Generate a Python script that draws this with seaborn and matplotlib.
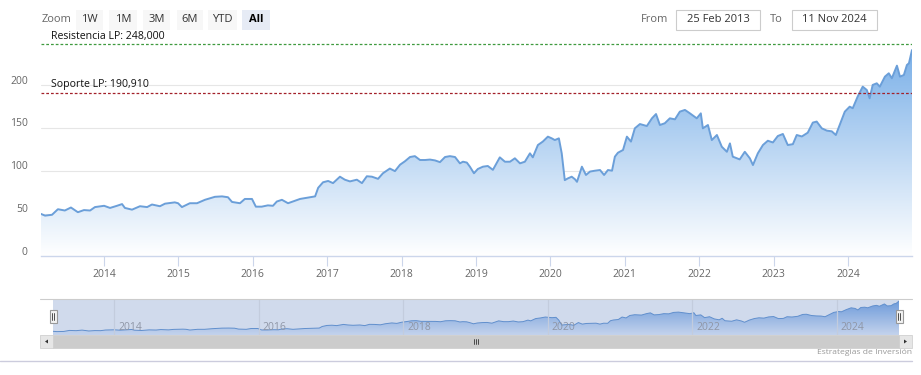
import numpy as np
import pandas as pd
import matplotlib
matplotlib.use("Agg")
import matplotlib.pyplot as plt
import matplotlib.dates as mdates
import seaborn as sns
from matplotlib.transforms import ScaledTranslation
from matplotlib.patches import Rectangle, PathPatch, Polygon
from matplotlib.colors import LinearSegmentedColormap
from matplotlib.lines import Line2D

# ---------------- data ----------------
dates = [
    "2013-02-25", "2013-03-17", "2013-04-20", "2013-05-19", "2013-06-22", "2013-07-22", "2013-08-25",
    "2013-09-24", "2013-10-24", "2013-11-17", "2014-01-01", "2014-01-30", "2014-03-05", "2014-03-30",
    "2014-04-13", "2014-05-18", "2014-06-26", "2014-07-31", "2014-08-24", "2014-10-02", "2014-10-27",
    "2014-12-14", "2014-12-30", "2015-01-18", "2015-02-26", "2015-04-02", "2015-05-11", "2015-06-29",
    "2015-08-03", "2015-09-01", "2015-09-21", "2015-10-30", "2015-11-23", "2015-12-28", "2016-01-16",
    "2016-02-14", "2016-03-15", "2016-04-09", "2016-04-28", "2016-05-23", "2016-06-22", "2016-07-16",
    "2016-08-20", "2016-10-08", "2016-11-02", "2016-11-17", "2016-12-11", "2017-01-05", "2017-01-29",
    "2017-03-04", "2017-03-28", "2017-04-22", "2017-05-26", "2017-06-20", "2017-07-14", "2017-08-08",
    "2017-09-07", "2017-10-01", "2017-11-04", "2017-11-29", "2017-12-24", "2018-01-17", "2018-02-11",
    "2018-03-07", "2018-04-01", "2018-04-26", "2018-05-20", "2018-06-14", "2018-07-08", "2018-08-02",
    "2018-08-26", "2018-09-20", "2018-10-14", "2018-10-29", "2018-11-17", "2018-12-02", "2018-12-22",
    "2019-01-10", "2019-02-04", "2019-02-28", "2019-03-25", "2019-04-28", "2019-05-23", "2019-06-17",
    "2019-07-11", "2019-08-05", "2019-08-29", "2019-09-23", "2019-10-07", "2019-11-01", "2019-11-25",
    "2019-12-20", "2020-01-08", "2020-01-23", "2020-02-12", "2020-02-26", "2020-03-12", "2020-03-27",
    "2020-04-15", "2020-05-01", "2020-05-11", "2020-06-04", "2020-06-24", "2020-07-14", "2020-08-07",
    "2020-09-01", "2020-09-21", "2020-10-10", "2020-10-30", "2020-11-13", "2020-11-28", "2020-12-23",
    "2021-01-11", "2021-01-31", "2021-02-19", "2021-03-16", "2021-04-19", "2021-05-14", "2021-06-03",
    "2021-06-22", "2021-07-16", "2021-08-10", "2021-09-04", "2021-09-28", "2021-10-23", "2021-11-16",
    "2021-12-20", "2022-01-09", "2022-01-19", "2022-02-13", "2022-03-04", "2022-03-29", "2022-04-22",
    "2022-05-17", "2022-06-01", "2022-06-15", "2022-07-19", "2022-08-13", "2022-09-07", "2022-09-22",
    "2022-10-16", "2022-11-10", "2022-12-04", "2022-12-29", "2023-01-22", "2023-02-16", "2023-03-12",
    "2023-04-06", "2023-04-25", "2023-05-20", "2023-06-18", "2023-07-13", "2023-08-01", "2023-08-26",
    "2023-09-20", "2023-10-14", "2023-11-03", "2023-11-22", "2023-12-17", "2024-01-10", "2024-01-25",
    "2024-02-18", "2024-03-14", "2024-04-03", "2024-04-17", "2024-05-02", "2024-05-22", "2024-06-06",
    "2024-07-01", "2024-07-20", "2024-08-04", "2024-08-29", "2024-09-13", "2024-10-02", "2024-10-17",
    "2024-10-27", "2024-11-11",
]
values = [
    49.5, 47.5, 48.5, 55.0, 53.5, 57.0, 51.5,
    54.0, 53.5, 57.5, 59.0, 56.5, 59.0, 61.0,
    56.5, 54.5, 58.5, 57.5, 60.5, 58.5, 61.5,
    63.0, 62.0, 57.5, 62.0, 62.0, 66.0, 69.5,
    70.0, 69.0, 63.5, 62.0, 67.0, 67.0, 58.0,
    58.0, 59.5, 59.0, 64.0, 66.0, 62.0, 64.0,
    67.0, 69.0, 70.0, 80.0, 86.5, 88.0, 85.5,
    93.0, 89.5, 87.5, 89.5, 85.5, 93.5, 93.0,
    90.5, 97.0, 102.5, 99.5, 107.0, 111.0, 116.0,
    117.0, 112.5, 112.5, 113.0, 112.0, 110.0, 116.0,
    117.0, 116.0, 108.6, 110.5, 109.5, 104.7, 97.0,
    102.0, 104.7, 105.5, 101.0, 115.6, 110.5, 110.5,
    114.5, 108.6, 110.5, 120.3, 115.6, 130.0, 134.0,
    139.8, 137.8, 135.8, 137.8, 120.3, 89.0, 91.0,
    93.0, 90.0, 87.0, 104.7, 95.0, 99.0, 100.0,
    100.8, 95.0, 100.8, 100.0, 116.4, 121.0, 124.2,
    139.8, 134.0, 149.5, 154.5, 152.2, 161.2, 166.2,
    153.4, 155.4, 161.2, 160.0, 169.0, 171.0, 167.1,
    161.2, 167.0, 149.5, 153.4, 135.8, 141.7, 128.0,
    122.1, 131.9, 116.4, 113.2, 122.1, 114.4, 106.6,
    120.3, 130.0, 135.0, 133.0, 140.5, 142.9, 130.0,
    131.0, 141.7, 140.0, 144.4, 156.2, 157.4, 149.5,
    146.8, 146.0, 141.7, 153.4, 169.0, 174.8, 173.0,
    186.5, 198.2, 194.3, 184.6, 200.2, 202.1, 198.2,
    209.9, 213.8, 208.0, 222.7, 209.9, 211.8, 223.5,
    225.5, 241.0,
]
resistance_value = 248.0
support_value = 190.91
resistance_label = "Resistencia LP: 248,000"
support_label = "Soporte LP: 190,910"
y_ticks = [0, 50, 100, 150, 200]
x_years = list(range(2014, 2025))
nav_years = [2014, 2016, 2018, 2020, 2022, 2024]
range_buttons = ["1W", "1M", "3M", "6M", "YTD", "All"]
from_text = "25 Feb 2013"
to_text = "11 Nov 2024"
credit_text = "Estrategias de Inversión"

# ---------------- style ----------------
sns.set_theme(style="white")
plt.rcParams["font.family"] = ["Open Sans", "DejaVu Sans"]

W, H = 921, 375
fig = plt.figure(figsize=(W / 100, H / 100), dpi=100)
fig.patch.set_facecolor("white")


def rect(x0, y0, x1, y1):
    return [x0 / W, 1 - y1 / H, (x1 - x0) / W, (y1 - y0) / H]


df = pd.DataFrame({"date": pd.to_datetime(dates), "value": values})
xnum = mdates.date2num(df["date"].values)
x_start, x_end = xnum.min(), xnum.max()

LINE = "#6b9fd9"


def gradient_area(ax, top_rgb, bottom_rgb, ytop, ybottom, zorder):
    poly = ax.fill_between(df["date"], df["value"], ybottom, facecolor="none", edgecolor="none")
    path = poly.get_paths()[0]
    cmap = LinearSegmentedColormap.from_list("g", [bottom_rgb, top_rgb])
    grad = np.linspace(0, 1, 256).reshape(-1, 1)
    im = ax.imshow(grad, extent=[x_start, x_end, ybottom, ytop], origin="lower",
                   aspect="auto", cmap=cmap, zorder=zorder, interpolation="bilinear")
    patch = PathPatch(path, transform=ax.transData, facecolor="none", edgecolor="none")
    ax.add_patch(patch)
    im.set_clip_path(patch)


# ---------------- main chart ----------------
ax = fig.add_axes(rect(41, 42.3, 912, 256.3))
ax.set_facecolor("white")
gradient_area(ax, (0.48, 0.69, 0.91), (1.0, 1.0, 1.0), max(values), 0, 1)
sns.lineplot(data=df, x="date", y="value", ax=ax, color=LINE, linewidth=1.4, zorder=4)

ax.axhline(resistance_value, color="#3f9a3f", lw=0.9, ls=(0, (2.2, 1.6)), zorder=5)
ax.axhline(support_value, color="#a3202a", lw=0.9, ls=(0, (2.2, 1.6)), zorder=5)
ax.annotate(resistance_label, xy=(10 / 871, resistance_value), xycoords=("axes fraction", "data"),
            xytext=(0, 1.5), textcoords="offset points", ha="left", va="bottom",
            fontsize=7.6, color="#111111", zorder=6, annotation_clip=False)
ax.annotate(support_label, xy=(10 / 871, support_value), xycoords=("axes fraction", "data"),
            xytext=(0, 2.0), textcoords="offset points", ha="left", va="bottom",
            fontsize=7.6, color="#111111", zorder=6, annotation_clip=False)

ax.set_ylim(0, 250)
ax.set_xlim(x_start, x_end)
ax.set_yticks(y_ticks)
ax.set_yticklabels([str(v) for v in y_ticks])
ax.set_xticks([mdates.date2num(pd.Timestamp(f"{y}-01-01")) for y in x_years])
ax.set_xticklabels([str(y) for y in x_years])
ax.grid(axis="y", color="#e6e6e6", lw=0.8)
ax.grid(axis="x", visible=False)
for s in ["left", "right", "top"]:
    ax.spines[s].set_visible(False)
ax.spines["bottom"].set_color("#ccd6eb")
ax.spines["bottom"].set_linewidth(1.0)
ax.tick_params(axis="x", length=7, width=0.8, color="#ccd6eb", labelsize=7.5,
               labelcolor="#666666", pad=2.0, bottom=True)
ax.tick_params(axis="y", length=0, labelsize=7.5, labelcolor="#666666", pad=9.5)
for lbl in ax.get_yticklabels():
    lbl.set_transform(lbl.get_transform() + ScaledTranslation(0, 5.5 / 100, fig.dpi_scale_trans))
ax.set_xlabel("")
ax.set_ylabel("")

# ---------------- navigator ----------------
nav = fig.add_axes(rect(53, 299, 899, 335))
nav.set_facecolor("white")
gradient_area(nav, (0.45, 0.65, 0.90), (0.93, 0.96, 1.0), max(values), 26, 0.5)
sns.lineplot(data=df, x="date", y="value", ax=nav, color="#5f94d2", linewidth=0.7, zorder=0.7)
nav.axvspan(x_start, x_end, color=(102 / 255, 133 / 255, 194 / 255), alpha=0.3, lw=0, zorder=0.9)
nav.set_axisbelow(False)
nav.set_ylim(26, 254)
nav.set_xlim(x_start, x_end)
nav.set_yticks([])
nav.set_xticks([mdates.date2num(pd.Timestamp(f"{y}-01-01")) for y in nav_years])
nav.set_xticklabels([str(y) for y in nav_years])
nav.grid(axis="x", color="#c3ccdd", lw=0.9)
nav.grid(axis="y", visible=False)
for s in nav.spines.values():
    s.set_visible(False)
nav.tick_params(axis="x", length=0, pad=0, labelsize=7.5, labelcolor="#8f96a6")
for lbl in nav.get_xticklabels():
    lbl.set_ha("left")
    lbl.set_va("center")
    lbl.set_transform(lbl.get_transform() + ScaledTranslation(4 / 100, 7.5 / 100, fig.dpi_scale_trans))
nav.set_xlabel("")
nav.set_ylabel("")

# ---------------- UI chrome (pixel overlay) ----------------
ui = fig.add_axes([0, 0, 1, 1], zorder=10)
ui.set_xlim(0, W)
ui.set_ylim(H, 0)
ui.axis("off")

ui.text(42, 19.5, "Zoom", fontsize=8, color="#666666", ha="left", va="center")
btn_x = [(76, 103), (109, 137), (143, 170), (177, 203), (208, 237), (242, 270)]
for (x0, x1), lab in zip(btn_x, range_buttons):
    sel = lab == "All"
    ui.add_patch(Rectangle((x0, 10), x1 - x0, 20, facecolor="#e6ebf5" if sel else "#f7f7f7",
                           edgecolor="none"))
    ui.text((x0 + x1) / 2, 19.5, lab, fontsize=8, color="#000000" if sel else "#333333",
            fontweight="bold" if sel else "normal", ha="center", va="center")

ui.text(668, 19.5, "From", fontsize=8, color="#666666", ha="right", va="center")
ui.add_patch(Rectangle((676, 10), 84, 20, facecolor="white", edgecolor="#cccccc", lw=0.8))
ui.text(718, 19.5, from_text, fontsize=8, color="#333333", ha="center", va="center")
ui.text(783, 19.5, "To", fontsize=8, color="#666666", ha="right", va="center")
ui.add_patch(Rectangle((792, 10), 85, 20, facecolor="white", edgecolor="#cccccc", lw=0.8))
ui.text(834.5, 19.5, to_text, fontsize=8, color="#333333", ha="center", va="center")

# navigator outline
ui.add_line(Line2D([40, 912], [299, 299], color="#cccccc", lw=0.8))
# handles
for hx in (53, 899):
    ui.add_patch(Rectangle((hx - 3.5, 310), 7, 13, facecolor="#f2f2f2", edgecolor="#999999", lw=0.8))
    for dx in (-1.2, 1.2):
        ui.add_line(Line2D([hx + dx, hx + dx], [313, 320], color="#333333", lw=0.6))
# scrollbar
ui.add_patch(Rectangle((40, 335), 872, 13, facecolor="#f2f2f2", edgecolor="none"))
ui.add_patch(Rectangle((53, 335), 846, 13, facecolor="#cccccc", edgecolor="#cccccc", lw=0.5))
for bx in (40, 899):
    ui.add_patch(Rectangle((bx, 335), 13, 13, facecolor="#e6e6e6", edgecolor="#cccccc", lw=0.5))
ui.add_patch(Polygon([[45, 341.5], [48, 339.5], [48, 343.5]], closed=True, facecolor="#333333", edgecolor="none"))
ui.add_patch(Polygon([[907, 341.5], [904, 339.5], [904, 343.5]], closed=True, facecolor="#333333", edgecolor="none"))
for gx in (474, 476, 478):
    ui.add_line(Line2D([gx, gx], [339, 344], color="#333333", lw=0.6))

# bottom separator and credits
ui.add_line(Line2D([0, 912], [361, 361], color="#ccccdd", lw=1.0))
ui.text(912, 353, credit_text, fontsize=6.1, color="#999999", ha="right", va="center")

fig.savefig("out.png", dpi=100, facecolor="white")
